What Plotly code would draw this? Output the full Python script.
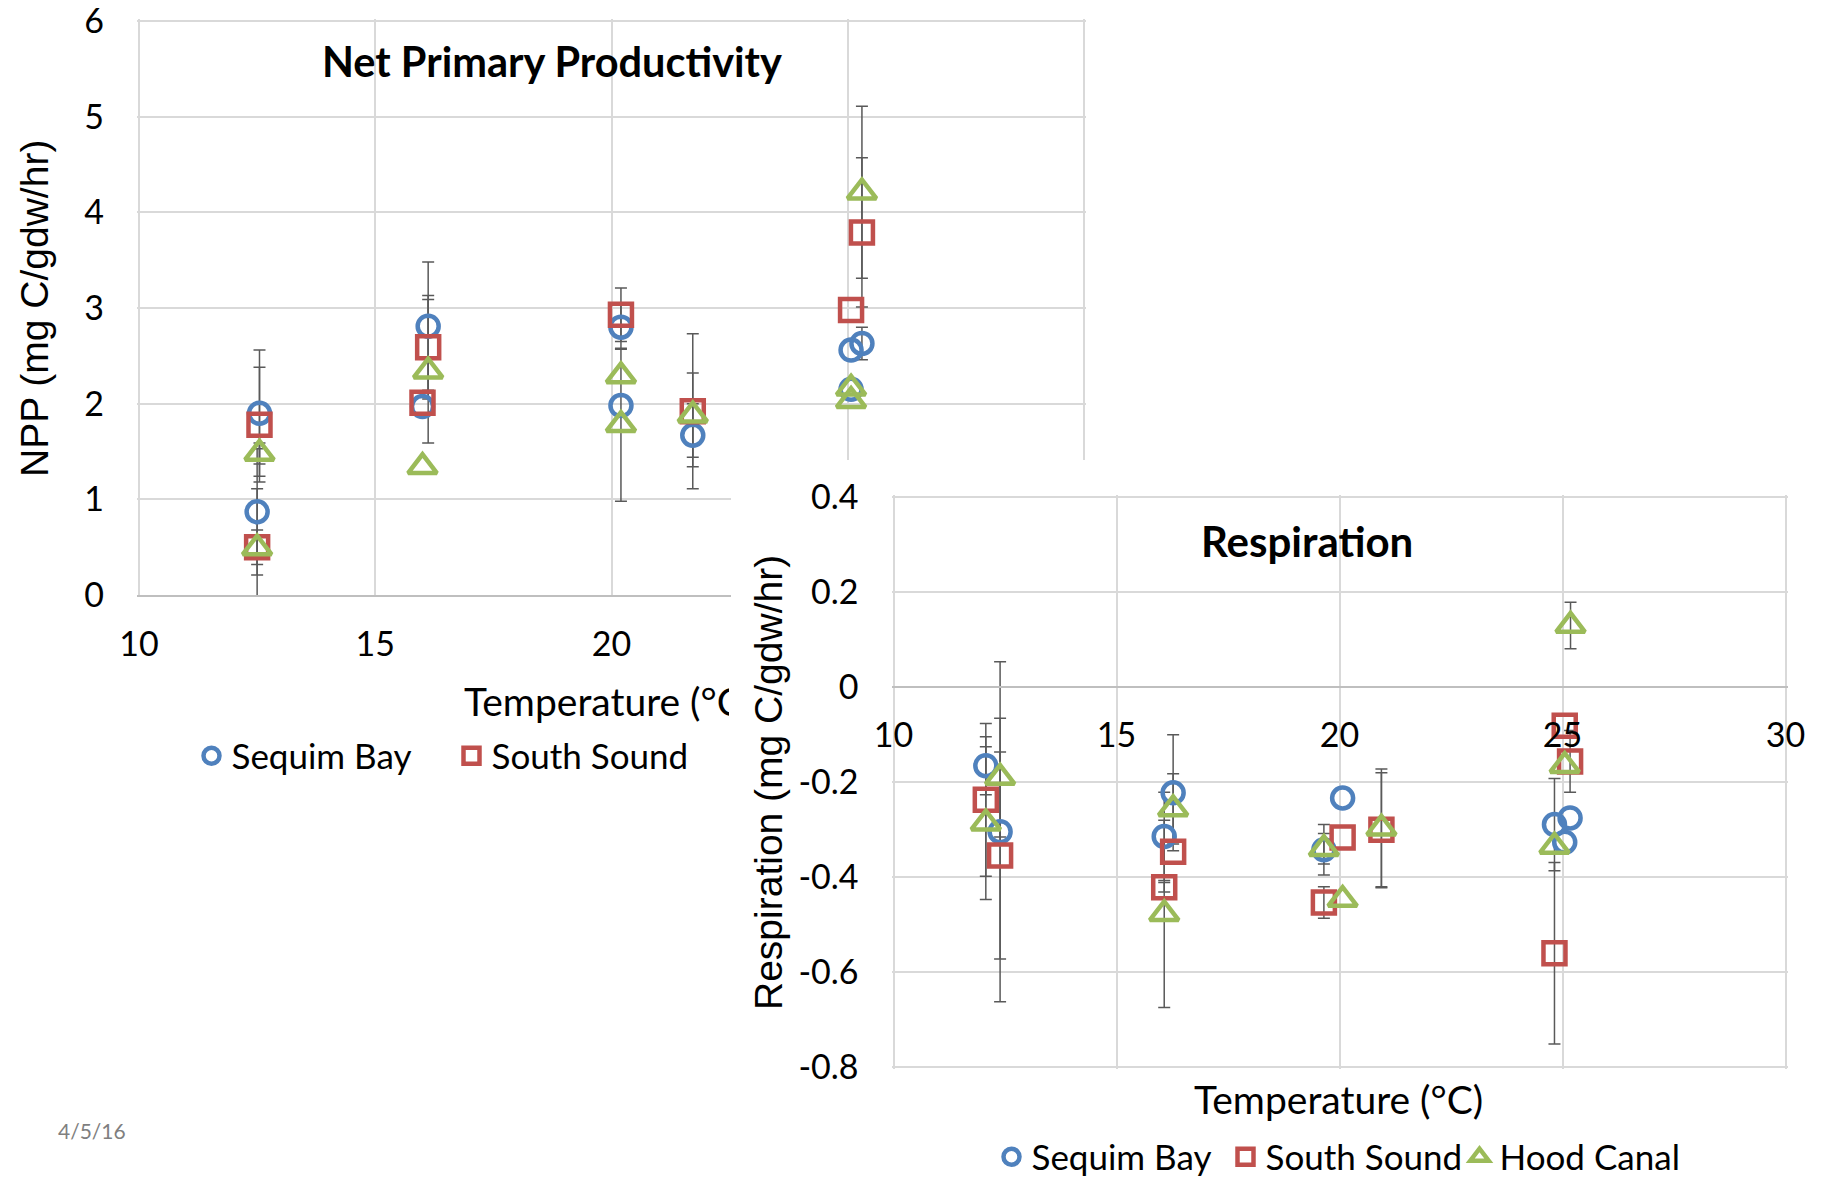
import plotly.graph_objects as go

# ---------------- data ----------------
sites = ["Sequim Bay", "South Sound", "Hood Canal"]

# Net Primary Productivity (mg C/gdw/hr) vs temperature (°C)
sequim_npp_t = [12.55, 12.50, 16.12, 16.00, 20.20, 20.20, 21.72, 25.30, 25.07, 25.07]
sequim_npp = [1.90, 0.87, 2.81, 1.97, 2.80, 1.98, 1.67, 2.63, 2.56, 2.15]
sequim_npp_err = [0.66, 0.66, 0.67, 0, 0.23, 0, 0.33, 0.17, 0, 0]

south_npp_t = [12.55, 12.50, 16.12, 16.00, 20.20, 21.72, 25.30, 25.07]
south_npp = [1.78, 0.50, 2.59, 2.01, 2.93, 1.92, 3.79, 2.98]
south_npp_err = [0.60, 0.18, 0.54, 0, 0.28, 0.81, 0.78, 0]

hood_npp_t = [12.55, 12.50, 16.12, 16.00, 20.20, 20.20, 21.72, 25.30, 25.07, 25.07]
hood_npp = [1.48, 0.49, 2.34, 1.34, 2.29, 1.78, 1.88, 4.21, 2.16, 2.03]
hood_npp_err = [0.11, 0.62, 0.75, 0, 0, 0.80, 0.44, 0.90, 0, 0]

# Respiration (mg C/gdw/hr) vs temperature (°C)
sequim_resp_t = [12.07, 12.39, 16.27, 16.07, 20.07, 19.65, 25.17, 24.82, 25.05]
sequim_resp = [-0.165, -0.304, -0.222, -0.314, -0.233, -0.342, -0.275, -0.289, -0.326]
sequim_resp_err = [0.061, 0.358, 0.122, 0.093, 0, 0.053, 0, 0.097, 0]

south_resp_t = [12.07, 12.39, 16.27, 16.07, 20.07, 19.65, 20.94, 25.05, 25.17, 24.82]
south_resp = [-0.237, -0.354, -0.346, -0.421, -0.316, -0.453, -0.300, -0.081, -0.156, -0.560]
south_resp_err = [0.161, 0.218, 0, 0.01, 0, 0.033, 0.12, 0, 0.065, 0.191]

hood_resp_t = [12.39, 12.07, 16.27, 16.07, 19.65, 20.07, 20.94, 25.18, 25.05, 24.82]
hood_resp = [-0.19, -0.286, -0.256, -0.477, -0.34, -0.447, -0.297, 0.130, -0.165, -0.335]
hood_resp_err = [0.125, 0.161, 0.074, 0.197, 0.032, 0, 0.125, 0.049, 0, 0]

x_ticks = [10, 15, 20, 25, 30]
npp_ticks = [0, 1, 2, 3, 4, 5, 6]
resp_ticks = [-0.8, -0.6, -0.4, -0.2, 0, 0.2, 0.4]
resp_ticktext = ["-0.8", "-0.6", "-0.4", "-0.2", "0", "0.2", "0.4"]

# ---------------- style ----------------
W, H = 1822, 1179
def fx(px):
    return px / W
def fy(py):
    return 1 - py / H

def h_axis(p0, p1, v0, v1, pad0, pad1):
    """domain/range for a horizontal axis whose v0..v1 spans pixels p0..p1,
    padded a little so that the edge grid lines are drawn"""
    ppu = (p1 - p0) / (v1 - v0)
    return [fx(p0 - pad0), fx(p1 + pad1)], [v0 - pad0 / ppu, v1 + pad1 / ppu]

def v_axis(p_bot, p_top, v0, v1, pad0, pad1):
    ppu = (p_bot - p_top) / (v1 - v0)
    return [fy(p_bot + pad0), fy(p_top - pad1)], [v0 - pad0 / ppu, v1 + pad1 / ppu]

COLORS = ["#4F81BD", "#C0504D", "#9BBB59"]
SYMBOLS = ["circle-open", "square-open", "triangle-up-open"]
SIZES = [21, 22, 25]
FONT = "Lato, Liberation Sans, Arial, sans-serif"
TITLE_FONT = "Liberation Sans, Arial, sans-serif"
GRID = "#D9D9D9"
ERRC = "#595959"

fig = go.Figure()

npp_sets = [(sequim_npp_t, sequim_npp, sequim_npp_err),
            (south_npp_t, south_npp, south_npp_err),
            (hood_npp_t, hood_npp, hood_npp_err)]
resp_sets = [(sequim_resp_t, sequim_resp, sequim_resp_err),
             (south_resp_t, south_resp, south_resp_err),
             (hood_resp_t, hood_resp, hood_resp_err)]


def err_trace(t, v, e, xa, ya):
    idx = [i for i in range(len(e)) if e[i] > 0]
    return go.Scatter(
        x=[t[i] for i in idx], y=[v[i] for i in idx], mode="markers",
        marker=dict(size=1, color="rgba(0,0,0,0)"),
        error_y=dict(type="data", array=[e[i] for i in idx], color=ERRC,
                     thickness=1.5, width=6),
        xaxis=xa, yaxis=ya, showlegend=False, hoverinfo="skip")


# NPP chart (x, y)
for t, v, e in npp_sets:
    fig.add_trace(err_trace(t, v, e, "x", "y"))
for k, (t, v, e) in enumerate(npp_sets):
    fig.add_trace(go.Scatter(
        x=t, y=v, mode="markers", name=sites[k],
        marker=dict(symbol=SYMBOLS[k], size=SIZES[k], color=COLORS[k],
                    line=dict(width=4.5, color=COLORS[k])),
        xaxis="x", yaxis="y", legend="legend",
        showlegend=(k < 2)))

# cover panel (x2, y2) - white background hiding part of the NPP chart
fig.add_trace(go.Scatter(x=[None], y=[None], mode="markers", xaxis="x2", yaxis="y2",
                         showlegend=False, hoverinfo="skip"))

# Respiration chart (x3, y3)
for t, v, e in resp_sets:
    fig.add_trace(err_trace(t, v, e, "x3", "y3"))
for k, (t, v, e) in enumerate(resp_sets):
    fig.add_trace(go.Scatter(
        x=t, y=v, mode="markers", name=sites[k],
        marker=dict(symbol=SYMBOLS[k], size=SIZES[k], color=COLORS[k],
                    line=dict(width=4.5, color=COLORS[k])),
        xaxis="x3", yaxis="y3", legend="legend2", showlegend=True))

tickfont = dict(family=FONT, size=34, color="black")

x1_dom, x1_rng = h_axis(139, 1084, 10, 30, 2, 2)
y1_dom, y1_rng = v_axis(595, 21, 0, 6, 0, 2)
x3_dom, x3_rng = h_axis(893.5, 1785.5, 10, 30, 2, 2)
y3_dom, y3_rng = v_axis(1067.3, 497.3, -0.8, 0.4, 2, 2)

fig.update_layout(
    width=W, height=H, autosize=False,
    margin=dict(l=0, r=0, t=0, b=0, autoexpand=False),
    paper_bgcolor="white", plot_bgcolor="white",
    showlegend=True,
    xaxis=dict(domain=x1_dom, range=x1_rng, tickvals=x_ticks,
               showgrid=True, gridcolor=GRID, gridwidth=1.5,
               showline=True, linecolor="#BFBFBF", linewidth=2,
               zeroline=False, ticks="", tickfont=tickfont,
               ticklabelstandoff=18, ticklabeloverflow="allow",
               anchor="y", fixedrange=True),
    yaxis=dict(domain=y1_dom, range=y1_rng, tickvals=npp_ticks,
               showgrid=True, gridcolor=GRID, gridwidth=1.5,
               zeroline=False, showline=False, ticks="", tickfont=tickfont,
               ticklabelstandoff=32, ticklabeloverflow="allow",
               anchor="x", fixedrange=True),
    xaxis2=dict(domain=[fx(731), 1], range=[0, 1], visible=False, anchor="y2"),
    yaxis2=dict(domain=[0, fy(460)], range=[0, 1], visible=False, anchor="x2"),
    xaxis3=dict(domain=x3_dom, range=x3_rng, tickvals=x_ticks,
                showgrid=True, gridcolor=GRID, gridwidth=1.5,
                showline=True, linecolor="#BFBFBF", linewidth=2,
                zeroline=False, ticks="", tickfont=tickfont,
                anchor="free", position=fy(687.4),
                ticklabelstandoff=18, ticklabeloverflow="allow", fixedrange=True),
    yaxis3=dict(domain=y3_dom, range=y3_rng,
                tickvals=resp_ticks, ticktext=resp_ticktext,
                showgrid=True, gridcolor=GRID, gridwidth=1.5,
                zeroline=False, showline=False, ticks="", tickfont=tickfont,
                ticklabelstandoff=32, ticklabeloverflow="allow",
                anchor="x3", fixedrange=True),
    legend=dict(orientation="h", x=fx(211.5 - 20), y=fy(756), xanchor="left",
                yanchor="middle", font=dict(family=FONT, size=35, color="black"),
                entrywidth=215, entrywidthmode="pixels",
                bgcolor="rgba(0,0,0,0)"),
    legend2=dict(orientation="h", x=fx(1015.5 - 24), y=fy(1157), xanchor="left",
                 yanchor="middle", font=dict(family=FONT, size=35, color="black"),
                 entrywidth=189, entrywidthmode="pixels",
                 bgcolor="rgba(0,0,0,0)"),
)

annotations = [
    dict(text="<b>Net Primary Productivity</b>", x=fx(552), y=fy(61),
         font=dict(family=FONT, size=41.5, color="black")),
    dict(text="<b>Respiration</b>", x=fx(1306.5), y=fy(541),
         font=dict(family=FONT, size=42, color="black")),
    dict(text="NPP (mg C/gdw/hr)", x=fx(35), y=fy(309), textangle=-90,
         font=dict(family=TITLE_FONT, size=39, color="black")),
    dict(text="Respiration (mg C/gdw/hr)", x=fx(768), y=fy(783), textangle=-90,
         font=dict(family=TITLE_FONT, size=39, color="black")),
    dict(text="Temperature (°C)", x=fx(1338.6), y=fy(1099),
         font=dict(family=FONT, size=39, color="black")),
    dict(text="Temperature (°C)", x=fx(463), y=fy(701), xanchor="left",
         width=265, align="left", borderpad=0,
         font=dict(family=FONT, size=39, color="black")),
    dict(text="4/5/16", x=fx(92), y=fy(1130.5),
         font=dict(family=FONT, size=21, color="#7F7F7F")),
]
for a in annotations:
    a.setdefault("xanchor", "center")
    a.update(xref="paper", yref="paper", yanchor="middle", showarrow=False)
fig.update_layout(annotations=annotations)

fig.write_html("out.html")
